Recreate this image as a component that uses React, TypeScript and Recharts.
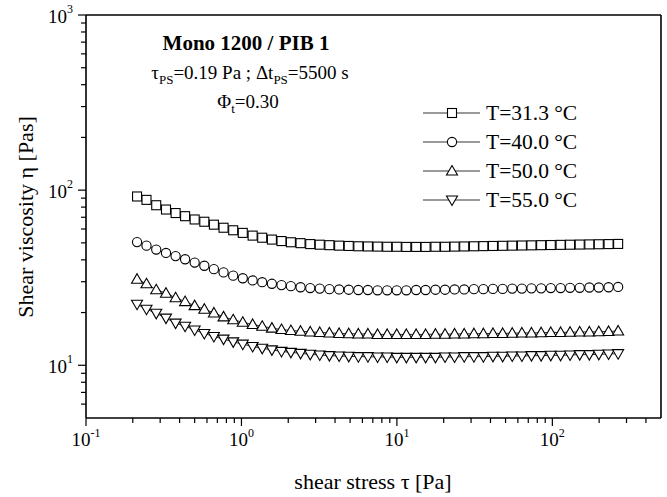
import { LineChart, Line, XAxis, YAxis, Legend } from 'recharts'

// shear stress [Pa], same sweep for every temperature
const stress = [
  0.213, 0.245, 0.283, 0.327, 0.377, 0.434, 0.5, 0.577, 0.665, 0.767, 0.885,
  1.02, 1.18, 1.36, 1.57, 1.81, 2.08, 2.4, 2.77, 3.19, 3.68, 4.25, 4.9, 5.65,
  6.51, 7.51, 8.66, 9.98, 11.5, 13.3, 15.3, 17.7, 20.4, 23.5, 27.1, 31.3, 36.0,
  41.5, 47.9, 55.2, 63.7, 73.4, 84.7, 97.7, 113, 130, 150, 173, 199, 230, 265,
]

const eta313 = [
  92, 88, 82, 77.5, 74, 71, 68, 66, 63.5, 61, 59, 57, 55, 53.5, 52.2, 51.2,
  50.4, 49.8, 49.2, 48.8, 48.5, 48.2, 48.0, 47.8, 47.7, 47.6, 47.5, 47.5, 47.4,
  47.4, 47.4, 47.5, 47.5, 47.6, 47.7, 47.8, 47.9, 48.0, 48.1, 48.2, 48.3, 48.4,
  48.5, 48.6, 48.7, 48.8, 48.9, 49.0, 49.1, 49.2, 49.3,
]
const eta400 = [
  50.5, 48.2, 45.8, 43.8, 42.0, 40.3, 38.6, 37.0, 35.4, 33.9, 32.5, 31.4, 30.5,
  29.8, 29.2, 28.7, 28.3, 27.9, 27.6, 27.4, 27.2, 27.1, 27.0, 26.9, 26.9, 26.8,
  26.8, 26.8, 26.8, 26.9, 26.9, 27.0, 27.0, 27.1, 27.1, 27.2, 27.2, 27.3, 27.3,
  27.4, 27.4, 27.5, 27.5, 27.6, 27.6, 27.7, 27.7, 27.8, 27.8, 27.9, 28.0,
]
const eta500 = [
  31.0, 29.2, 27.0, 25.8, 24.3, 23.1, 21.9, 20.9, 19.9, 18.9, 18.2, 17.6, 17.1,
  16.7, 16.3, 16.0, 15.8, 15.65, 15.5, 15.4, 15.3, 15.2, 15.15, 15.1, 15.1, 15.0,
  15.0, 15.0, 15.0, 15.0, 15.0, 15.05, 15.05, 15.1, 15.1, 15.15, 15.15, 15.2,
  15.2, 15.25, 15.3, 15.3, 15.35, 15.4, 15.4, 15.45, 15.5, 15.5, 15.55, 15.6, 15.7,
]
const eta550 = [
  22.3, 20.9, 19.8, 18.6, 17.4, 16.7, 15.9, 15.2, 14.6, 14.1, 13.6, 13.2, 12.8,
  12.5, 12.25, 12.0, 11.85, 11.7, 11.55, 11.45, 11.35, 11.3, 11.25, 11.2, 11.2,
  11.15, 11.15, 11.1, 11.1, 11.1, 11.1, 11.1, 11.15, 11.15, 11.2, 11.2, 11.2,
  11.25, 11.25, 11.3, 11.3, 11.35, 11.35, 11.4, 11.4, 11.45, 11.5, 11.5, 11.55,
  11.6, 11.65,
]

const seriesNames = ['T=31.3 °C', 'T=40.0 °C', 'T=50.0 °C', 'T=55.0 °C']
const seriesKeys = ['t313', 't400', 't500', 't550']
const seriesMarks = ['square', 'circle', 'up', 'down']

const xMajor = [0.1, 1, 10, 100]
const xMajorExp = ['-1', '0', '1', '2']
const xMinor = [
  0.2, 0.3, 0.4, 0.5, 0.6, 0.7, 0.8, 0.9, 2, 3, 4, 5, 6, 7, 8, 9,
  20, 30, 40, 50, 60, 70, 80, 90, 200, 300, 400,
]
const yMajor = [10, 100, 1000]
const yMajorExp = ['1', '2', '3']
const yMinor = [6, 7, 8, 9, 20, 30, 40, 50, 60, 70, 80, 90, 200, 300, 400, 500, 600, 700, 800, 900]

const rows = stress.map((x, i) => ({
  x,
  t313: eta313[i],
  t400: eta400[i],
  t500: eta500[i],
  t550: eta550[i],
}))

const FONT = "'Liberation Serif', 'Times New Roman', serif"
const INK = '#000'

function Marker({ kind, cx, cy }: { kind: string; cx: number; cy: number }) {
  if (cx == null || cy == null) return null
  const common = { fill: '#fff', stroke: INK, strokeWidth: 1.1 }
  if (kind === 'square') return <rect x={cx - 4.5} y={cy - 4.5} width={9} height={9} {...common} />
  if (kind === 'circle') return <circle cx={cx} cy={cy} r={4.6} {...common} />
  if (kind === 'up')
    return <polygon points={`${cx},${cy - 5.5} ${cx + 5.5},${cy + 4} ${cx - 5.5},${cy + 4}`} {...common} />
  return <polygon points={`${cx - 5.5},${cy - 4} ${cx + 5.5},${cy - 4} ${cx},${cy + 5.5}`} {...common} />
}

function XTick(props: any) {
  const { x, y, payload } = props
  const idx = xMajor.indexOf(payload.value)
  const major = idx >= 0
  return (
    <g>
      <line x1={x} y1={y} x2={x} y2={y + (major ? 8 : 5)} stroke={INK} strokeWidth={1.2} />
      {major && (
        <text x={x} y={y + 28} textAnchor="middle" fontFamily={FONT} fontSize={19} fill={INK}>
          10
          <tspan dy={-9} fontSize={12}>{xMajorExp[idx]}</tspan>
        </text>
      )}
    </g>
  )
}

function YTick(props: any) {
  const { x, y, payload } = props
  const idx = yMajor.indexOf(payload.value)
  const major = idx >= 0
  return (
    <g>
      <line x1={x} y1={y} x2={x - (major ? 8 : 5)} y2={y} stroke={INK} strokeWidth={1.2} />
      {major && (
        <>
          <text x={x - 19} y={y + 8} textAnchor="end" fontFamily={FONT} fontSize={19} fill={INK}>
            10
          </text>
          <text x={x - 19} y={y - 2} textAnchor="start" fontFamily={FONT} fontSize={12} fill={INK}>
            {yMajorExp[idx]}
          </text>
        </>
      )}
    </g>
  )
}

function LegendBox() {
  return (
    <svg width={200} height={120} style={{ overflow: 'visible' }}>
      {seriesNames.map((name, i) => {
        const cy = 15 + i * 29
        return (
          <g key={name}>
            <line x1={3} y1={cy} x2={60} y2={cy} stroke={INK} strokeWidth={0.8} />
            <Marker kind={seriesMarks[i]} cx={32} cy={cy} />
            <text x={66} y={cy + 7} fontFamily={FONT} fontSize={21.5} fill={INK}>
              {name}
            </text>
          </g>
        )
      })}
    </svg>
  )
}

export default function App() {
  return (
    <div style={{ position: 'absolute', left: 0, top: 0, width: 667, height: 497, background: '#fff' }}>
      <LineChart width={667} height={497} data={rows} margin={{ top: 5, right: 2, bottom: 19, left: 26 }}>
        <XAxis
          dataKey="x"
          type="number"
          scale="log"
          domain={[0.1, 500]}
          allowDataOverflow
          ticks={[...xMajor, ...xMinor]}
          interval={0}
          tickSize={0}
          tickMargin={0}
          tickLine={false}
          tick={<XTick />}
          height={60}
          axisLine={{ stroke: INK, strokeWidth: 1.6 }}
        />
        <XAxis
          xAxisId="top"
          orientation="top"
          dataKey="x"
          type="number"
          scale="log"
          domain={[0.1, 500]}
          allowDataOverflow
          tick={false}
          tickLine={false}
          height={10}
          axisLine={{ stroke: INK, strokeWidth: 1.6 }}
        />
        <YAxis
          type="number"
          scale="log"
          domain={[5, 1000]}
          allowDataOverflow
          ticks={[...yMajor, ...yMinor]}
          interval={0}
          tickSize={0}
          tickMargin={0}
          tickLine={false}
          tick={<YTick />}
          width={60}
          axisLine={{ stroke: INK, strokeWidth: 1.6 }}
        />
        <YAxis
          yAxisId="right"
          orientation="right"
          type="number"
          scale="log"
          domain={[5, 1000]}
          allowDataOverflow
          tick={false}
          tickLine={false}
          width={4}
          axisLine={{ stroke: INK, strokeWidth: 1.6 }}
        />
        <Legend
          layout="vertical"
          align="center"
          verticalAlign="middle"
          wrapperStyle={{ left: 420, top: 98, width: 200, height: 120 }}
          content={() => <LegendBox />}
        />
        {seriesKeys.map((k, i) => (
          <Line
            key={k}
            dataKey={k}
            name={seriesNames[i]}
            type="linear"
            stroke={INK}
            strokeWidth={0.8}
            isAnimationActive={false}
            dot={(p: any) => <Marker key={`${k}-${p.index}`} kind={seriesMarks[i]} cx={p.cx} cy={p.cy} />}
            activeDot={false}
          />
        ))}
      </LineChart>
      <svg
        width={667}
        height={497}
        style={{ position: 'absolute', left: 0, top: 0, pointerEvents: 'none' }}
      >
        <text x={246} y={50} textAnchor="middle" fontFamily={FONT} fontSize={21} fontWeight="bold" fill={INK}>
          Mono 1200 / PIB 1
        </text>
        <text x={250} y={79} textAnchor="middle" fontFamily={FONT} fontSize={19} fill={INK}>
          τ<tspan fontSize={13} dy={5}>PS</tspan>
          <tspan dy={-5}>=0.19 Pa ; Δt</tspan>
          <tspan fontSize={13} dy={5}>PS</tspan>
          <tspan dy={-5}>=5500 s</tspan>
        </text>
        <text x={248} y={108} textAnchor="middle" fontFamily={FONT} fontSize={19} fill={INK}>
          Φ<tspan fontSize={13} dy={5}>t</tspan>
          <tspan dy={-5}>=0.30</tspan>
        </text>
        <text x={373} y={489} textAnchor="middle" fontFamily={FONT} fontSize={22} fill={INK}>
          shear stress τ [Pa]
        </text>
        <text
          x={0}
          y={0}
          transform="translate(33 217) rotate(-90)"
          textAnchor="middle"
          fontFamily={FONT}
          fontSize={22}
          fill={INK}
        >
          Shear viscosity η [Pas]
        </text>
      </svg>
    </div>
  )
}
